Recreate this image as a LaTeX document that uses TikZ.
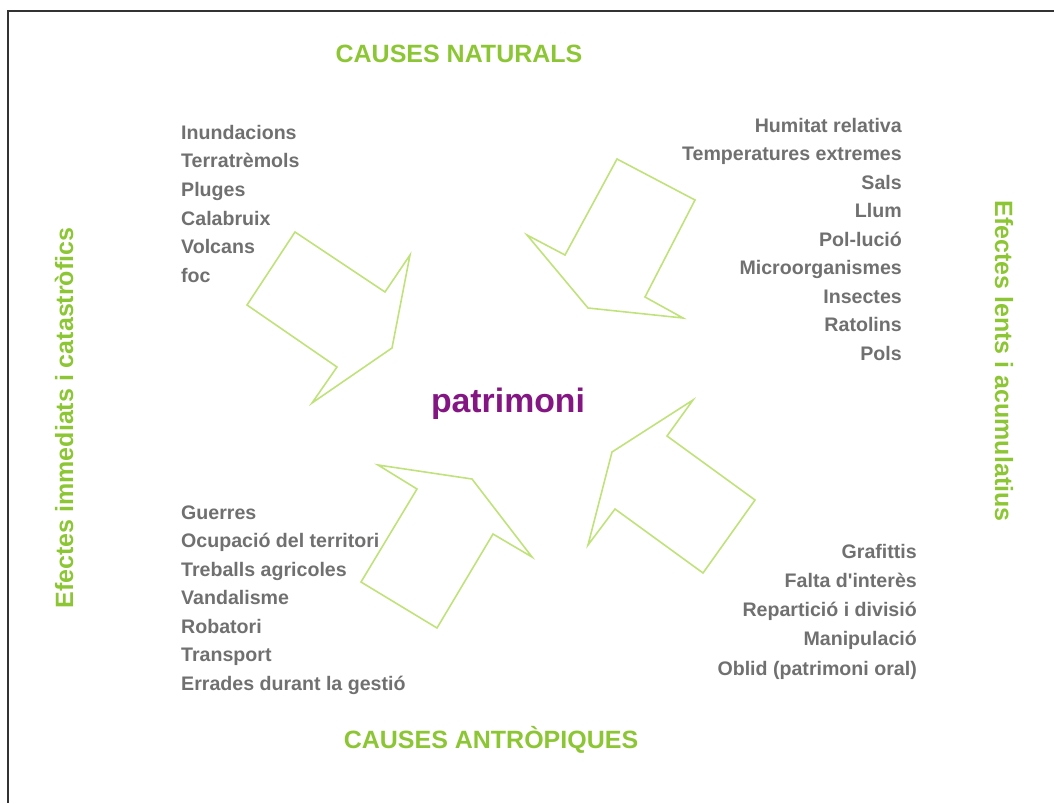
\documentclass[tikz,border=0pt]{standalone}
\usepackage{fontspec}
\setmainfont{Liberation Sans}
\usepackage{tikz}
\usetikzlibrary{positioning}
\usetikzlibrary{calc}
\definecolor{causegreen}{RGB}{141,198,52}
\definecolor{arrowgreen}{RGB}{192,226,122}
\definecolor{itemgray}{RGB}{112,112,112}
\definecolor{heritagepurple}{RGB}{132,22,132}
\tikzstyle{title}=[text=causegreen,font=\bfseries\fontsize{25}{30}\selectfont,inner sep=0pt]
\tikzstyle{sidetitle}=[text=causegreen,font=\bfseries\fontsize{25}{30}\selectfont,inner sep=0pt]
\tikzstyle{item}=[text=itemgray,font=\bfseries\fontsize{19.6}{24}\selectfont,inner sep=0pt]
\tikzstyle{centre}=[text=heritagepurple,font=\bfseries\fontsize{33.8}{40}\selectfont,inner sep=0pt]
\tikzstyle{bigarrow}=[draw=arrowgreen,line width=1.6pt,line join=miter]
\tikzstyle{frame}=[draw=black!80,line width=1.5pt]

\begin{document}
\begin{tikzpicture}[x=1pt,y=-1pt]
    \useasboundingbox (0,0) rectangle (1054,803);
    % Frame of the slide
    \draw[frame] (1054,11) -- (8,11) -- (8,803);

    % Titles and the centre
    \node[title,anchor=base] (natural) at (459,62) {CAUSES NATURALS};
    \node[title,anchor=base] (human) at (491,748) {CAUSES ANTRÒPIQUES};
    \node[centre,anchor=base] (heritage) at (508,412) {patrimoni};
    \node[sidetitle,rotate=90] (sudden) at (64,418) {Efectes immediats i catastròfics};
    \node[sidetitle,rotate=-90] (slow) at (1004,361) {Efectes lents i acumulatius};

    % Lists of causes
    \foreach \label [count=\i] in {Inundacions, Terratrèmols, Pluges, Calabruix, Volcans, foc}
        \node[item,anchor=base west] (nat\i) at (181,{139+28.7*(\i-1)}) {\label};

    \foreach \label [count=\i] in {Humitat relativa, Temperatures extremes, Sals, Llum, Pol-lució, Microorganismes, Insectes, Ratolins, Pols}
        \node[item,anchor=base east] (env\i) at (902,{132+28.5*(\i-1)}) {\label};

    \foreach \label [count=\i] in {Guerres, Ocupació del territori, Treballs agricoles, Vandalisme, Robatori, Transport, Errades durant la gestió}
        \node[item,anchor=base west] (ant\i) at (181,{519+28.5*(\i-1)}) {\label};

    \foreach \label [count=\i] in {Grafittis, Falta d\textquotesingle interès, Repartició i divisió, Manipulació, Oblid (patrimoni oral)}
        \node[item,anchor=base east] (soc\i) at (917,{558+29.3*(\i-1)}) {\label};

    % Arrows pointing to the centre
    \draw[bigarrow] (295,232) -- (385,292) -- (410,255) -- (392,348) -- (312,403) -- (337,367) -- (247,305) -- cycle;
    \draw[bigarrow] (617,159) -- (695,200) -- (645,297) -- (683,318) -- (588,308) -- (527,235) -- (565,255) -- cycle;
    \draw[bigarrow] (378,465) -- (472,479) -- (532,557) -- (493,534) -- (437,628) -- (361,582) -- (417,489) -- cycle;
    \draw[bigarrow] (693,400) -- (667,436) -- (755,500) -- (703,573) -- (615,509) -- (588,545) -- (612,452) -- cycle;
\end{tikzpicture}
\end{document}
